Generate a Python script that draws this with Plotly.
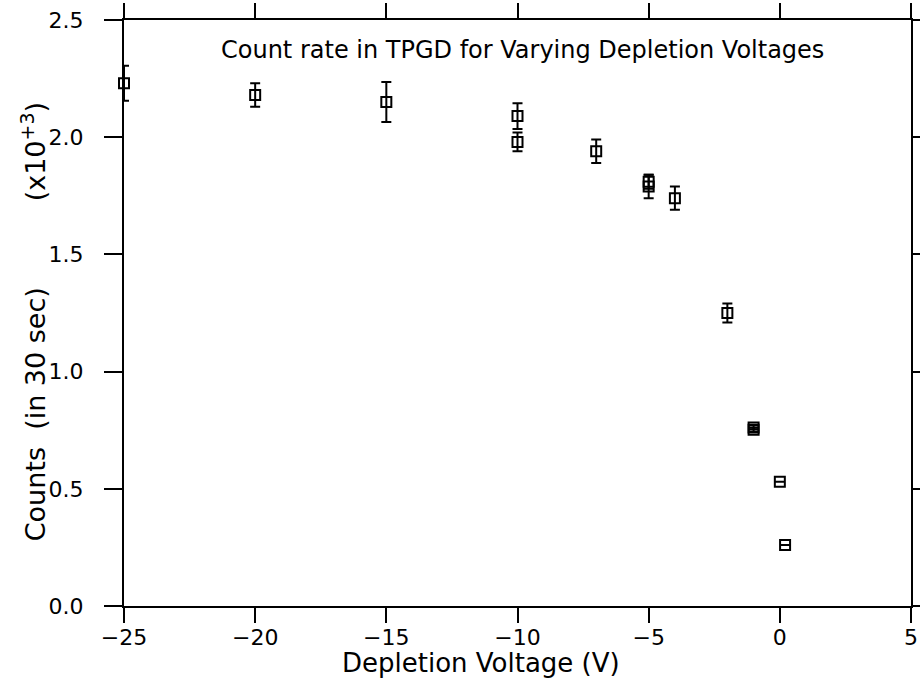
import plotly.graph_objects as go

voltage = [-25, -20, -15, -10, -10, -7, -5, -5, -4, -2, -1, -1, 0, 0.2]
counts = [2.23, 2.18, 2.15, 2.09, 1.98, 1.94, 1.81, 1.79, 1.74, 1.25, 0.762, 0.752, 0.53, 0.26]
errors = [0.075, 0.05, 0.085, 0.055, 0.04, 0.05, 0.03, 0.05, 0.05, 0.04, 0.008, 0.008, 0, 0]

title_text = "Count rate in TPGD for Varying Depletion Voltages"
x_title = "Depletion Voltage (V)"
y_title = "Counts&nbsp;&nbsp;(in&nbsp;30&nbsp;sec)" + "&nbsp;" * 10 + "(x10<sup>+3</sup>)"

FONT = "DejaVu Sans"

fig = go.Figure()
fig.add_trace(go.Scatter(
    x=voltage, y=counts, mode="markers",
    marker=dict(symbol="square-open", size=10, color="black", line=dict(width=2, color="black")),
    error_y=dict(type="data", array=errors, visible=True, color="black", thickness=2, width=5),
    cliponaxis=False, showlegend=False,
))

axis_common = dict(
    showline=True, linecolor="black", linewidth=2, mirror="ticks",
    ticks="outside", tickwidth=1.5, tickcolor="black",
    showgrid=False, zeroline=False, automargin=False,
    tickfont=dict(family=FONT, size=22, color="black"),
)

fig.update_xaxes(range=[-25, 5], dtick=5, tick0=-25, ticklen=15, ticklabelstandoff=-4, **axis_common)
fig.update_yaxes(range=[0, 2.5], dtick=0.5, tick0=0, tickformat=".1f", ticklen=18,
                 ticklabelstandoff=16, **axis_common)

fig.add_annotation(text=title_text, xref="paper", yref="paper", x=0.506, y=0.949,
                   xanchor="center", yanchor="middle",
                   showarrow=False, font=dict(family=FONT, size=24, color="black"))
fig.add_annotation(text=x_title, xref="paper", yref="paper", x=0.4536, y=-0.0973,
                   xanchor="center", yanchor="middle",
                   showarrow=False, font=dict(family=FONT, size=26, color="black"))
fig.add_annotation(text=y_title, xref="paper", yref="paper", x=-0.115, y=0.485,
                   xanchor="center", yanchor="middle",
                   textangle=-90, showarrow=False, font=dict(family=FONT, size=27, color="black"))

fig.update_layout(
    width=920, height=680,
    margin=dict(l=124, r=9, t=20, b=74),
    paper_bgcolor="white", plot_bgcolor="white",
)

fig.write_html("out.html")
